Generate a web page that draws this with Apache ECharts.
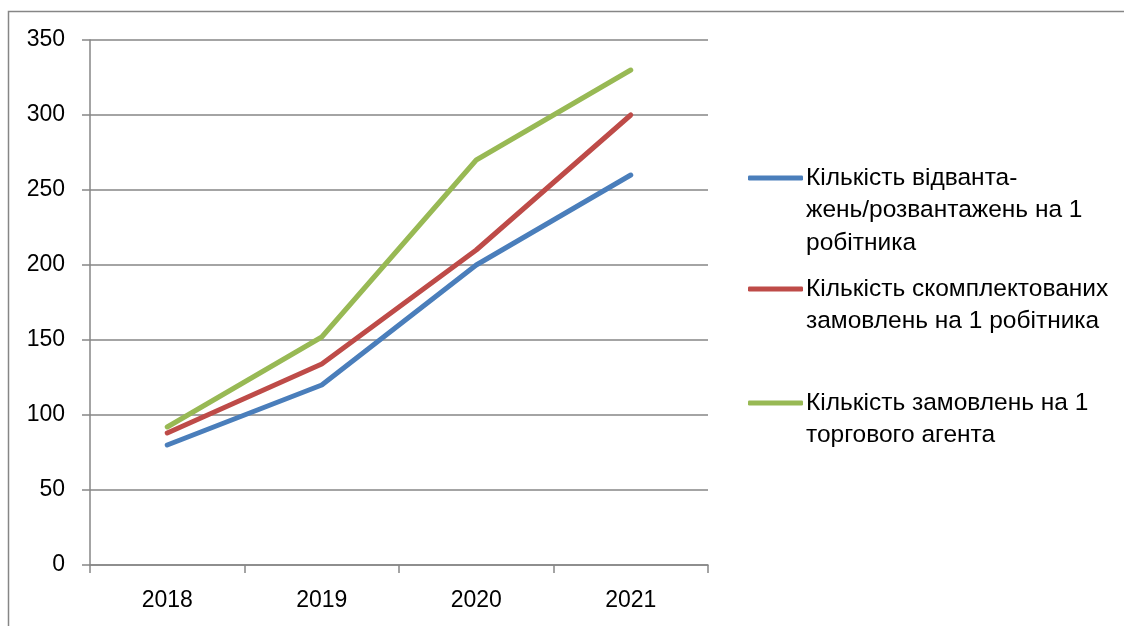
<!DOCTYPE html>
<html>
<head>
<meta charset="utf-8">
<script src="https://cdn.jsdelivr.net/npm/echarts@6/dist/echarts.min.js"></script>
<style>
  html, body { margin: 0; padding: 0; background: #ffffff; }
  #chart { width: 1124px; height: 626px; }
</style>
</head>
<body>
<div id="chart"></div>
<script>
// Years on the category axis
const years = ['2018', '2019', '2020', '2021'];

// Series names and values
const nameShipments = 'Кількість відвантажень/розвантажень на 1 робітника';
const nameAssembled = 'Кількість скомплектованих замовлень на 1 робітника';
const nameAgentOrders = 'Кількість замовлень на 1 торгового агента';

const shipments = [80, 120, 200, 260];
const assembled = [88, 134, 210, 300];
const agentOrders = [92, 152, 270, 330];

// Wrapped legend labels
const legendLabels = {};
legendLabels[nameShipments] = ['Кількість відванта-', 'жень/розвантажень на 1', 'робітника'];
legendLabels[nameAssembled] = ['Кількість скомплектованих', 'замовлень на 1 робітника'];
legendLabels[nameAgentOrders] = ['Кількість замовлень на 1', 'торгового агента'];

const FONT = 'Liberation Sans';
const AXIS_FS = 23;
const LEGEND_FS = 24.5;
const LH = 32.5;
const gray = '#868686';

// Blank lines before the label keep the icon level with its first line
function legendText(name) {
  const lines = legendLabels[name];
  const pad = new Array(lines.length - 1).fill(' ');
  return pad.concat(lines).join('\n');
}

function makeLegend(name, firstLineY) {
  const n = legendLabels[name].length;
  const totalLines = 2 * n - 1;
  return {
    data: [name],
    left: 748,
    top: firstLineY - (totalLines * LH) / 2,
    padding: 0,
    icon: 'roundRect',
    itemWidth: 55,
    itemHeight: 5,
    itemGap: 0,
    selectedMode: false,
    formatter: legendText,
    textStyle: {
      fontFamily: FONT,
      fontSize: LEGEND_FS,
      lineHeight: LH,
      color: '#000000',
      padding: [0, 0, 0, -2]
    }
  };
}

function lineSeries(name, data, color) {
  return {
    name: name,
    type: 'line',
    data: data,
    symbol: 'none',
    lineStyle: { width: 5, color: color, cap: 'round', join: 'round' },
    itemStyle: { color: color },
    emphasis: { disabled: true }
  };
}

const chart = echarts.init(document.getElementById('chart'), null, { renderer: 'canvas' });
chart.setOption({
  animation: false,
  backgroundColor: '#ffffff',
  graphic: [{
    type: 'rect',
    shape: { x: 8.5, y: 11.5, width: 1300, height: 800 },
    style: { fill: 'none', stroke: gray, lineWidth: 1.5 },
    silent: true
  }],
  grid: { left: 90, right: 416, top: 40, bottom: 61 },
  legend: [
    makeLegend(nameShipments, 178),
    makeLegend(nameAssembled, 289),
    makeLegend(nameAgentOrders, 403)
  ],
  xAxis: {
    type: 'category',
    data: years,
    boundaryGap: true,
    axisLine: { show: true, lineStyle: { color: gray, width: 1.5 } },
    axisTick: { show: true, length: 8, inside: false, lineStyle: { color: gray, width: 1.5 } },
    axisLabel: { fontFamily: FONT, fontSize: AXIS_FS, color: '#000000', margin: 24 },
    splitLine: { show: false }
  },
  yAxis: {
    type: 'value',
    min: 0,
    max: 350,
    interval: 50,
    axisLine: { show: true, lineStyle: { color: gray, width: 1.5 } },
    axisTick: { show: true, length: 8, lineStyle: { color: gray, width: 1.5 } },
    axisLabel: { fontFamily: FONT, fontSize: AXIS_FS, color: '#000000', margin: 25 },
    splitLine: { show: true, lineStyle: { color: gray, width: 1.5 } }
  },
  series: [
    lineSeries(nameShipments, shipments, '#4A7EBB'),
    lineSeries(nameAssembled, assembled, '#BE4B48'),
    lineSeries(nameAgentOrders, agentOrders, '#98B954')
  ]
});
</script>
</body>
</html>
